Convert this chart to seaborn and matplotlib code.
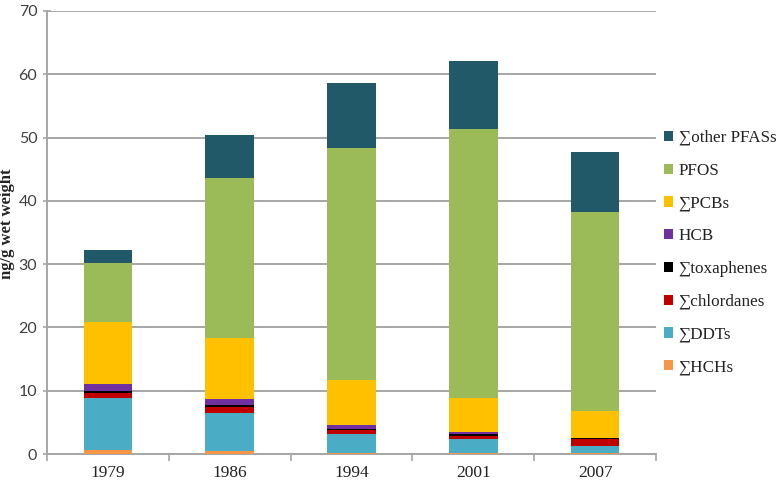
import matplotlib
matplotlib.use("Agg")
import matplotlib.pyplot as plt
import seaborn as sns
import numpy as np
import pandas as pd
from matplotlib.patches import Patch

years = ["1979", "1986", "1994", "2001", "2007"]

# components (ng/g wet weight), bottom to top
hchs        = [0.6, 0.4, 0.15, 0.1, 0.1]
ddts        = [8.3, 6.0, 2.95, 2.2, 1.2]
chlordanes  = [0.7, 1.1, 0.7, 0.6, 1.0]
toxaphenes  = [0.3, 0.2, 0.2, 0.3, 0.15]
hcb         = [1.2, 1.0, 0.6, 0.3, 0.15]
pcbs        = [9.7, 9.6, 7.1, 5.3, 4.2]
pfos        = [9.4, 25.3, 36.6, 42.6, 31.5]
other_pfass = [2.1, 6.8, 10.4, 10.7, 9.4]

series_names = ["∑HCHs", "∑DDTs", "∑chlordanes", "∑toxaphenes", "HCB",
                "∑PCBs", "PFOS", "∑other PFASs"]
series_vals = [hchs, ddts, chlordanes, toxaphenes, hcb, pcbs, pfos, other_pfass]
colors = ["#F79646", "#4BACC6", "#C00000", "#000000", "#7030A0",
          "#FFC000", "#9BBB59", "#215968"]

sns.set_theme(style="white")
plt.rcParams["font.family"] = ["Liberation Serif", "DejaVu Serif"]

fig = plt.figure(figsize=(7.81, 4.91), dpi=100)
ax = fig.add_axes([47 / 781, 1 - 454 / 491, (656 - 47) / 781, (454 - 11) / 491])

cum = np.cumsum(np.array(series_vals), axis=0)
# draw tallest cumulative first so lower layers overlay
for i in range(len(series_names) - 1, -1, -1):
    df = pd.DataFrame({"year": years, "value": cum[i]})
    sns.barplot(data=df, x="year", y="value", color=colors[i], width=0.4,
                saturation=1, ax=ax, zorder=3, linewidth=0)

ax.set_ylim(0, 70)
ax.set_xlim(-0.5, 4.5)
ax.set_yticks(np.arange(0, 71, 10))
ax.yaxis.grid(True, color="#A6A6A6", linewidth=1.4, zorder=0)
ax.set_axisbelow(True)
for s in ["top", "right"]:
    ax.spines[s].set_visible(False)
for s in ["left", "bottom"]:
    ax.spines[s].set_color("#A6A6A6")
    ax.spines[s].set_linewidth(1.4)

ax.set_xlabel("")
ax.set_ylabel("")
ax.tick_params(axis="y", direction="inout", length=6, width=1.2, color="#A6A6A6",
               labelsize=11.5, labelcolor="#404040", pad=4, left=True)
for lab in ax.get_yticklabels():
    lab.set_family(["Lato", "DejaVu Sans"])
ax.tick_params(axis="x", which="major", length=0, labelsize=12.5, pad=8,
               labelcolor="#222222")
ax.set_xticks(np.arange(-0.5, 4.6, 1), minor=True)
ax.tick_params(axis="x", which="minor", direction="out", length=5, width=1.2,
               color="#A6A6A6", bottom=True)

fig.text(0.0095, 1 - 224 / 491, "ng/g wet weight", rotation=90, ha="center",
         va="center", fontsize=12, fontweight="bold", color="#222222")

handles = [Patch(facecolor=colors[i], edgecolor="none", label=series_names[i])
           for i in range(len(series_names) - 1, -1, -1)]
leg = ax.legend(handles=handles, loc="upper left",
                bbox_to_anchor=(664 / 781, 1 - 130 / 491),
                bbox_transform=fig.transFigure, frameon=False,
                fontsize=12.3, handlelength=0.55, handleheight=0.55,
                handletextpad=0.3, labelspacing=0.98, borderaxespad=0,
                borderpad=0)
for t in leg.get_texts():
    t.set_color("#222222")

fig.savefig("out.png", dpi=100)
